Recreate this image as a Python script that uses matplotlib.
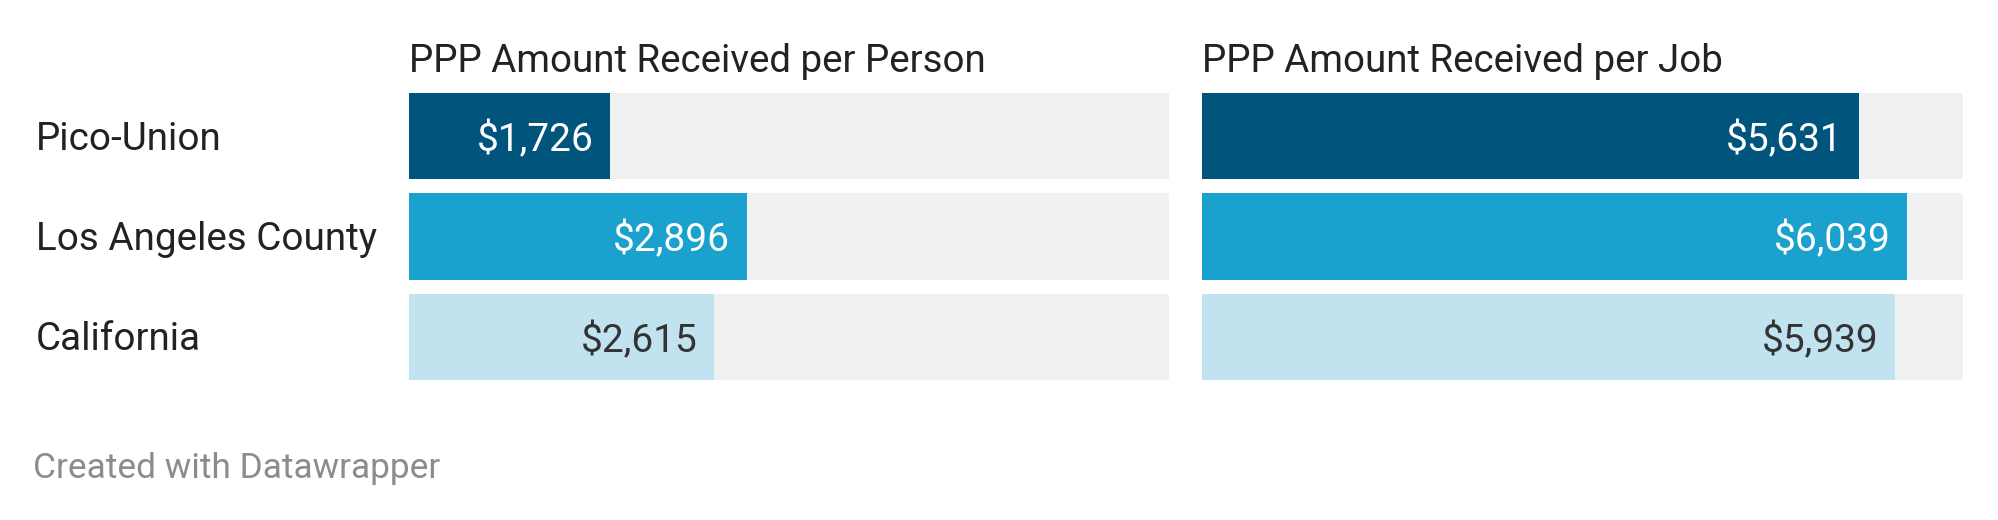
import matplotlib.pyplot as plt
import numpy as np

plt.rcParams["font.family"] = ["Roboto", "DejaVu Sans"]

regions = ["Pico-Union", "Los Angeles County", "California"]
per_person = [1726, 2896, 2615]
per_job = [5631, 6039, 5939]
panel_titles = ["PPP Amount Received per Person", "PPP Amount Received per Job"]

bar_colors = ["#01547c", "#1aa1cd", "#c0e3ef"]
label_colors = ["white", "white", "#333333"]
track_color = "#f1f1f1"
x_max = 6520

W, H = 1999, 520
fig = plt.figure(figsize=(W / 100, H / 100), dpi=100)

bottom = 1 - 380 / H
height = (380 - 93) / H
panels = [(409, 1169), (1202, 1963)]

y = np.arange(len(regions))
for (x0, x1), values, title in zip(panels, [per_person, per_job], panel_titles):
    ax = fig.add_axes([x0 / W, bottom, (x1 - x0) / W, height])
    ax.barh(y, [x_max] * len(regions), height=0.86, color=track_color, left=0)
    ax.barh(y, values, height=0.86, color=bar_colors)
    for yi, v, tc in zip(y, values, label_colors):
        ax.text(v - 140, yi, f"${v:,}", ha="right", va="center_baseline",
                fontsize=28, color=tc)
    ax.set_xlim(0, x_max)
    ax.set_ylim(2.43, -0.43)
    ax.axis("off")
    fig.text(x0 / W, 1 - 57 / H, title, ha="left", va="center_baseline",
             fontsize=27.7, color="#222222")

for yi, name in zip(y, regions):
    fig.text(36 / W, 1 - (136 + yi * 100) / H, name, ha="left", va="center_baseline",
             fontsize=27.8, color="#222222")

fig.text(33 / W, 1 - 465 / H, "Created with Datawrapper", ha="left", va="center_baseline",
         fontsize=25.4, color="#8c8c8c")

fig.savefig("out.png", dpi=100, facecolor="white")
